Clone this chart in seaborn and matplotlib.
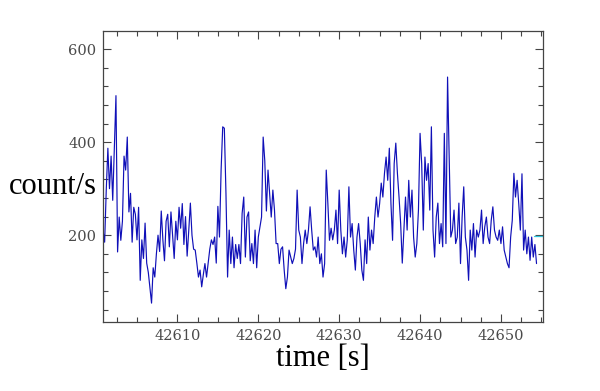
import numpy as np
import pandas as pd
import matplotlib
matplotlib.use("Agg")
import matplotlib.pyplot as plt
from matplotlib.ticker import MultipleLocator
import seaborn as sns

# light curve, 0.2 s bins
t_start = 42600.8
t_step = 0.2
counts = [
    # 42600.8 - 42614.4
    210, 185, 297, 387, 300, 370, 275, 390, 500, 164, 239, 189, 230, 370, 340, 411,
    250, 290, 185, 260, 245, 190, 260, 103, 190, 150, 226, 140, 120, 86, 54, 130,
    110, 160, 200, 165, 252, 190, 145, 230, 245, 175, 250, 200, 150, 230, 190, 260,
    215, 268, 180, 240, 155, 210, 269, 200, 170, 168, 140, 110, 125, 89, 115, 139,
    110, 140, 170, 190, 180,
    # 42614.6 - 42628.0
    196, 140, 262, 196, 340, 433, 430, 290, 110, 211, 139, 196, 130, 180, 150, 180,
    139, 247, 282, 153, 239, 250, 145, 182, 139, 211, 130, 196, 218, 239, 411, 360,
    252, 340, 290, 239, 297, 254, 182, 182, 139, 170, 175, 125, 85, 110, 168, 153,
    139, 150, 170, 297, 211, 196, 139, 182, 211, 182, 211, 261, 211, 168, 175, 153,
    196, 139, 160, 110,
    # 42628.2 - 42641.6
    139, 340, 268, 189, 215, 190, 211, 254, 182, 297, 211, 160, 196, 153, 190, 304,
    196, 225, 168, 125, 196, 225, 182, 125, 103, 190, 139, 239, 168, 211, 182, 239,
    282, 239, 268, 312, 282, 333, 368, 318, 387, 268, 189, 354, 398, 333, 282, 225,
    140, 211, 282, 211, 318, 239, 297, 196, 153, 182, 254, 419, 354, 211, 368, 318,
    354, 254, 433, 211,
    # 42641.8 - 42654.4
    153, 239, 269, 182, 225, 175, 419, 182, 540, 371, 196, 211, 254, 182, 196, 269,
    139, 239, 304, 196, 168, 103, 211, 168, 225, 153, 211, 196, 211, 254, 182, 218,
    239, 196, 182, 232, 261, 211, 196, 189, 211, 182, 218, 168, 153, 139, 130, 196,
    232, 333, 282, 318, 268, 211, 332, 168, 211, 160, 196, 146, 196, 153, 180, 139,
]
times = t_start + t_step * np.arange(len(counts))

# short cyan piece at the right edge
tail_times = [42654.1, 42655.2]
tail_counts = [198, 198]

x_range = (42600.8, 42655.2)
y_range = (14, 639)
x_major = [42610, 42620, 42630, 42640, 42650]
y_major = [200, 400, 600]

df = pd.DataFrame({"time": times, "rate": counts})
tail = pd.DataFrame({"time": tail_times, "rate": tail_counts})

sns.set_style("ticks")
plt.rcParams["font.family"] = ["DejaVu Serif"]

fig = plt.figure(figsize=(6.0, 3.91), dpi=100)
ax = fig.add_axes([0.1717, 0.1772, 0.7333, 0.7435])

sns.lineplot(data=df, x="time", y="rate", ax=ax, color="#1010b8",
             linewidth=0.85, estimator=None, sort=False)
sns.lineplot(data=tail, x="time", y="rate", ax=ax, color="#33c8e0",
             linewidth=0.9, estimator=None, sort=False)

ax.set_xlim(*x_range)
ax.set_ylim(*y_range)
ax.set_xticks(x_major)
ax.set_yticks(y_major)
ax.xaxis.set_minor_locator(MultipleLocator(2.5))
ax.yaxis.set_minor_locator(MultipleLocator(40))
ax.ticklabel_format(useOffset=False, style="plain", axis="x")

for side in ax.spines.values():
    side.set_color("#444444")
    side.set_linewidth(0.9)
ax.tick_params(which="both", direction="in", top=True, right=True,
               color="#444444", width=0.8, labelsize=10.5,
               labelcolor="#4a4a4a", pad=5)
ax.tick_params(which="major", length=6)
ax.tick_params(which="minor", length=3.5)

ax.set_xlabel("")
ax.set_ylabel("")
fig.text(0.088, 1 - 186 / 391, "count/s", fontsize=22, ha="center",
         va="center", family="Liberation Serif", color="black")
fig.text(0.538, 1 - 358 / 391, "time [s]", fontsize=22, ha="center",
         va="center", family="Liberation Serif", color="black")

fig.savefig("out.png", dpi=100, facecolor="white")
